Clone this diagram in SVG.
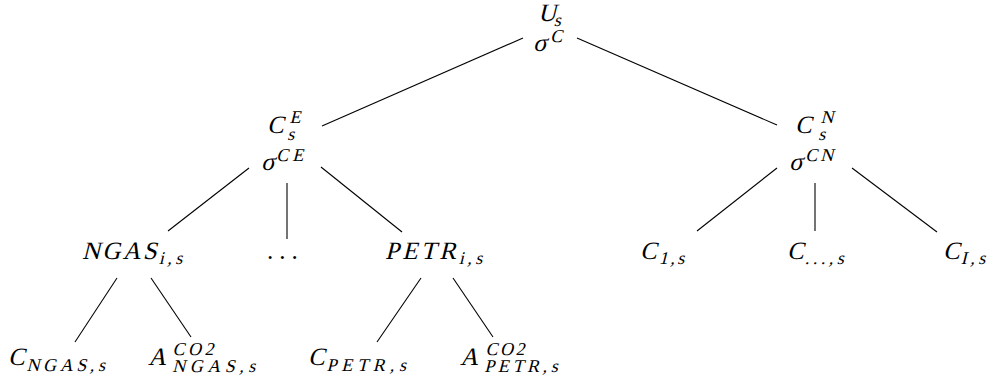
<svg xmlns="http://www.w3.org/2000/svg" width="997" height="392" viewBox="0 0 997 392">
<style>
text{font-family:"Liberation Serif","Times New Roman",serif;font-style:normal;fill:#000}
.m{font-size:25px}
.s{font-size:18px}
#edges line{stroke:#000;stroke-width:1.1}
</style>
<rect width="997" height="392" fill="#fff"/>
<g id="edges">
<line x1="523" y1="38" x2="322" y2="126"/>
<line x1="577" y1="38" x2="777" y2="125"/>
<line x1="249" y1="168" x2="168" y2="231"/>
<line x1="287" y1="183" x2="287" y2="239"/>
<line x1="321" y1="167" x2="402" y2="232"/>
<line x1="777" y1="168" x2="697" y2="231"/>
<line x1="815" y1="183" x2="815" y2="231"/>
<line x1="852" y1="168" x2="937" y2="232"/>
<line x1="117" y1="278" x2="75" y2="342"/>
<line x1="151" y1="278" x2="191" y2="337"/>
<line x1="421" y1="278" x2="377" y2="342"/>
<line x1="453" y1="278" x2="493" y2="337"/>
</g>
<g id="root">
<text class="m" transform="translate(538,21) skewX(-14)">U<tspan class="s" x="17" y="5">s</tspan></text>
<text class="m" transform="translate(533,51) skewX(-14)">σ<tspan class="s" x="15" y="-9">C</tspan></text>
</g>
<g id="CE">
<text class="m" transform="translate(267,133) skewX(-14)">C<tspan class="s" x="20" y="-10">E</tspan><tspan class="s" x="22" y="7">s</tspan></text>
<text class="m" transform="translate(261,170) skewX(-14)">σ<tspan class="s" x="13" y="-9" letter-spacing="4">CE</tspan></text>
</g>
<g id="CN">
<text class="m" transform="translate(795,133) skewX(-14)">C<tspan class="s" x="23" y="-10">N</tspan><tspan class="s" x="25" y="7">s</tspan></text>
<text class="m" transform="translate(789,170) skewX(-14)">σ<tspan class="s" x="14" y="-9" letter-spacing="3">CN</tspan></text>
</g>
<g id="NGAS">
<text class="m" transform="translate(82,259) skewX(-14)" letter-spacing="2.2">NGAS<tspan class="s" x="78" y="5" letter-spacing="3.5">i,s</tspan></text>
</g>
<g id="dots">
<text class="m" x="267" y="259" letter-spacing="6">...</text>
</g>
<g id="PETR">
<text class="m" transform="translate(385,259) skewX(-14)" letter-spacing="3.3">PETR<tspan class="s" x="75" y="5" letter-spacing="3.5">i,s</tspan></text>
</g>
<g id="C1">
<text class="m" transform="translate(640,259) skewX(-14)">C<tspan class="s" x="20" y="5" letter-spacing="2.5">1,s</tspan></text>
</g>
<g id="Cdots">
<text class="m" transform="translate(787,259) skewX(-14)">C<tspan class="s" x="19" y="5" letter-spacing="3.5">...,s</tspan></text>
</g>
<g id="CI">
<text class="m" transform="translate(943,259) skewX(-14)">C<tspan class="s" x="19" y="5" letter-spacing="3.5">I,s</tspan></text>
</g>
<g id="CNGAS">
<text class="m" transform="translate(8,365) skewX(-14)">C<tspan class="s" x="20" y="6" letter-spacing="3.6">NGAS,s</tspan></text>
</g>
<g id="ANGAS">
<text class="m" transform="translate(148,365) skewX(-14)">A<tspan class="s" x="22" y="-10" letter-spacing="3.5">CO2</tspan><tspan class="s" x="26" y="7" letter-spacing="4.5">NGAS,s</tspan></text>
</g>
<g id="CPETR">
<text class="m" transform="translate(308,365) skewX(-14)">C<tspan class="s" x="20" y="6" letter-spacing="4.8">PETR,s</tspan></text>
</g>
<g id="APETR">
<text class="m" transform="translate(460,365) skewX(-14)">A<tspan class="s" x="23" y="-10" letter-spacing="2.5">CO2</tspan><tspan class="s" x="26" y="7" letter-spacing="3.6">PETR,s</tspan></text>
</g>
</svg>
